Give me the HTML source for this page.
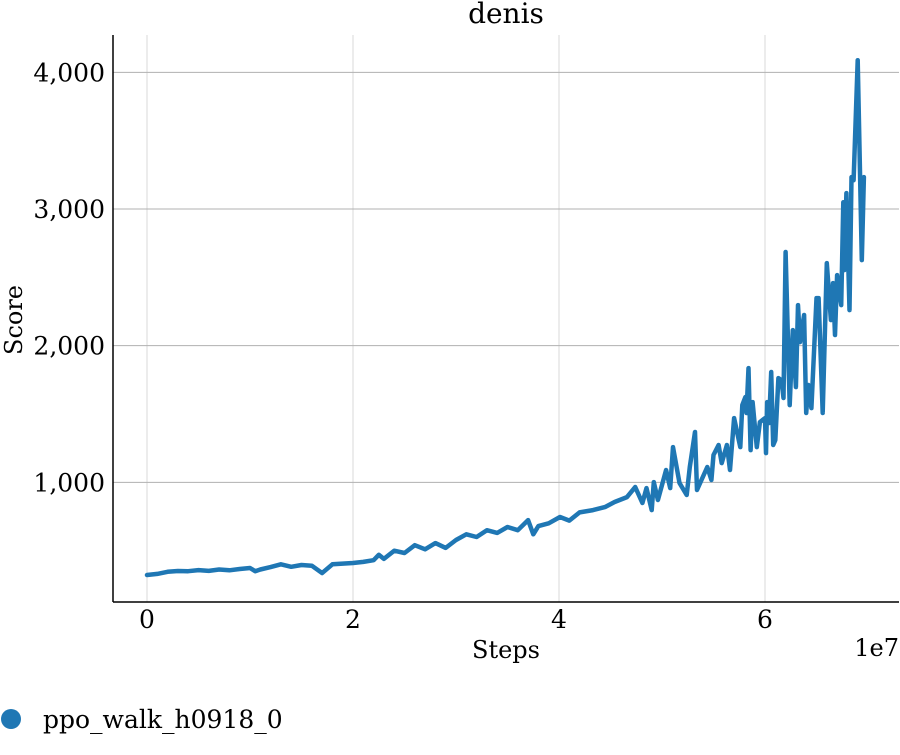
<!DOCTYPE html>
<html><head><meta charset="utf-8"><style>
body{margin:0;background:#fff;}
svg text{font-family:"DejaVu Serif","Liberation Serif",serif;fill:#000;}
</style></head><body>
<svg id="chart" width="900" height="750" xmlns="http://www.w3.org/2000/svg">
<text x="506" y="23" font-size="28" text-anchor="middle">denis</text>
<g id="grid"></g>
<g id="series"></g>
<g id="axes"></g>
<text x="0" y="0" font-size="24" text-anchor="middle" transform="translate(22,320) rotate(-90)">Score</text>
<text x="506" y="658" font-size="24" text-anchor="middle">Steps</text>
<text x="899" y="656" font-size="24" text-anchor="end">1e7</text>
<g>
<circle cx="11" cy="719" r="10" fill="#1f77b4"/>
<text x="43" y="728" font-size="25">ppo_walk_h0918_0</text>
</g>
</svg>
<script>
const steps=[0,0.1,0.2,0.3,0.4,0.5,0.6,0.7,0.8,0.9,1.0,1.05,1.1,1.2,1.3,1.4,1.5,1.6,1.7,1.8,1.9,2.0,2.1,2.2,2.25,2.3,2.4,2.5,2.6,2.7,2.8,2.9,3.0,3.1,3.2,3.3,3.4,3.5,3.6,3.7,3.75,3.8,3.9,4.01,4.1,4.2,4.33,4.45,4.54,4.66,4.74,4.81,4.85,4.9,4.92,4.96,5.04,5.08,5.107,5.17,5.24,5.27,5.32,5.34,5.44,5.48,5.5,5.55,5.58,5.63,5.66,5.7,5.76,5.78,5.81,5.82,5.84,5.86,5.88,5.92,5.95,6.0,6.01,6.02,6.04,6.06,6.08,6.1,6.13,6.16,6.18,6.2,6.24,6.27,6.3,6.32,6.34,6.36,6.38,6.4,6.42,6.45,6.5,6.52,6.56,6.6,6.64,6.66,6.68,6.7,6.74,6.76,6.77,6.79,6.82,6.84,6.86,6.9,6.94,6.96];
const scores=[322,330,345,351,350,358,352,362,356,366,373,350,362,380,400,382,395,390,336,400,405,410,418,430,470,440,500,483,540,510,555,520,578,620,600,650,630,673,650,724,620,680,700,746,720,780,797,820,856,892,966,849,958,797,1002,871,1090,958,1258,995,907,1112,1368,944,1112,1017,1200,1273,1141,1273,1090,1470,1258,1565,1624,1507,1836,1236,1587,1258,1441,1470,1214,1587,1434,1807,1273,1309,1763,1748,1617,2685,1565,2114,1697,2297,2026,2129,2224,1507,1712,1543,2348,2348,1507,2604,2187,2458,2078,2516,2297,3050,2553,3116,2260,3233,3211,4089,2626,3233];
const xTicks=[0,2,4,6];
const xTickLabels=["0","2","4","6"];
const yTicks=[1000,2000,3000,4000];
const yTickLabels=["1,000","2,000","3,000","4,000"];
const L=113,R=899,T=35,B=602;
function sx(v){return 147+v*103;}
function sy(v){return 619-v*0.13667;}
const NS="http://www.w3.org/2000/svg";
const grid=document.getElementById('grid'),axes=document.getElementById('axes'),ser=document.getElementById('series');
function mk(tag,attrs,parent){const e=document.createElementNS(NS,tag);for(const k in attrs)e.setAttribute(k,attrs[k]);parent.appendChild(e);return e;}
xTicks.forEach((t,i)=>{
 const g=mk('line',{x1:sx(t),x2:sx(t),y1:T,y2:B,stroke:'#d9d9d9','stroke-width':1},grid);
 
 
 const tx=mk('text',{x:sx(t),y:628,'font-size':25,'text-anchor':'middle'},axes);
 
 
 tx.textContent=xTickLabels[i];
});
yTicks.forEach((t,i)=>{
 const g=mk('line',{x1:L,x2:R,y1:sy(t),y2:sy(t),stroke:'#b0b0b0','stroke-width':1},grid);
 
 
 const tx=mk('text',{x:105,y:sy(t)+9,'font-size':25,'text-anchor':'end'},axes);
 
 
 tx.textContent=yTickLabels[i];
});
const yl=mk('line',{x1:L,x2:L,y1:T,y2:B,stroke:'#000','stroke-width':1.5},axes);


const xl=mk('line',{x1:L,x2:R,y1:B,y2:B,stroke:'#000','stroke-width':1.5},axes);


const d=steps.map((s,i)=>(i?'L':'M')+sx(s).toFixed(1)+','+sy(scores[i]).toFixed(1)).join(' ');
const p=mk('path',{d:d,fill:'none',stroke:'#1f77b4','stroke-width':4.5,'stroke-linejoin':'round','stroke-linecap':'round'},ser);


</script>
</body></html>
